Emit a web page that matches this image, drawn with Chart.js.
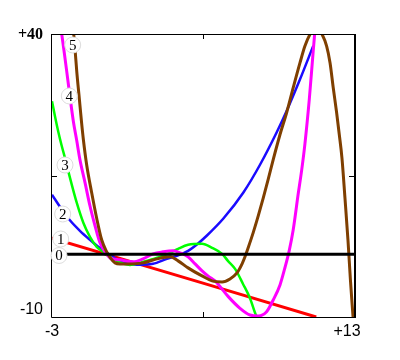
<!DOCTYPE html>
<html lang="en">
<head>
    <meta charset="UTF-8">
    <title>Polynomial curves</title>
    <style>
        body {
            margin: 0;
            background: #fff;
        }
    </style>
</head>
<body>
    <canvas id="curves" width="400" height="360"></canvas>

    <script src="https://cdn.jsdelivr.net/npm/chart.js"></script>

    <script>
        // Axis range and the labels written at its ends
        const xRange = [-3, 13];
        const yRange = [-10, 40];
        const xTickLabels = ['-3', '+13'];
        const yTickLabels = ['-10', '+40'];
        const curveNames = ['0', '1', '2', '3', '4', '5'];

        // Curve 0: flat line
        const zeroX = [-3, 13];
        const zeroY = [1.1, 1.1];

        // Curve 1: straight line
        const redX = [-3, 11.0];
        const redY = [3.94, -10];

        // Curve 2
        const blueX = [-3, -2.58, -2.05, -1.52, -0.99, -0.46, 0.07, 0.6, 1.5, 2.35, 3.09, 3.62, 4.21, 4.74, 5.21, 6.08, 7.14, 8.02, 8.9, 9.43, 10.14, 10.84];
        const blueY = [11.6, 9.48, 7.09, 5.23, 3.64, 2.17, 0.98, -0.08, -0.79, -0.61, 0.27, 0.8, 1.69, 3.0, 4.4, 7.4, 12.0, 16.9, 22.6, 26.4, 32.0, 37.9];

        // Curve 3
        const greenX = [-3, -2.84, -2.67, -2.49, -2.26, -2.05, -1.69, -1.34, -0.99, -0.63, -0.28, -0.02, 0.43, 0.81, 1.13, 1.66, 2.19, 2.72, 3.25, 3.68, 4.21, 4.95, 5.48, 6.01, 6.32, 6.7, 7.12, 7.49, 7.76, 7.85];
        const greenY = [28.13, 25.42, 22.77, 20.29, 17.45, 14.62, 10.19, 6.65, 4.17, 2.4, 1.51, 0.8, -0.09, -0.62, -0.8, -0.44, 0.09, 0.6, 1.33, 2.04, 2.75, 2.93, 2.22, 1.16, -0.08, -1.5, -4.16, -6.69, -9.29, -10];

        // Curve 4
        const magentaX = [-2.55, -2.49, -2.36, -2.22, -2.05, -1.87, -1.69, -1.52, -1.25, -0.99, -0.72, -0.46, -0.19, 0.07, 0.6, 1.29, 1.82, 2.35, 2.88, 3.41, 3.78, 4.21, 4.58, 4.95, 5.26, 5.64, 5.79, 6.34, 6.96, 7.49, 7.93, 8.37, 8.72, 9.08, 9.34, 9.56, 9.78, 10.05, 10.23, 10.4, 10.63, 10.84, 10.99];
        const magentaY = [41.5, 40.12, 36.94, 33.4, 28.97, 24.6, 21.17, 17.81, 13.73, 9.66, 6.12, 3.11, 1.51, 0.45, 0.1, -0.26, 0.27, 1.16, 1.51, 1.69, 1.33, 0.62, -0.61, -1.85, -2.74, -3.62, -4.16, -6.4, -8.46, -9.65, -9.82, -9.06, -6.99, -4.33, -1.3, 1.6, 5.41, 11.9, 16.0, 20.6, 28.4, 37.0, 43];

        // Curve 5
        const brownX = [-1.9, -1.85, -1.78, -1.69, -1.55, -1.43, -1.34, -1.16, -0.9, -0.63, -0.37, -0.1, 0.13, 0.34, 0.6, 0.97, 1.82, 2.56, 3.25, 3.68, 4.21, 4.95, 5.48, 6.01, 6.43, 6.8, 7.07, 7.22, 7.38, 7.66, 7.93, 8.19, 8.46, 8.72, 9.08, 9.43, 9.78, 10.14, 10.4, 10.67, 10.99, 11.3, 11.55, 11.73, 11.9, 12.08, 12.22, 12.36, 12.52, 12.68, 12.81, 12.95];
        const brownY = [42.5, 40, 37.34, 33.44, 28.49, 24.24, 21.4, 16.8, 12.0, 7.4, 3.64, 1.51, 0.27, -0.44, -0.62, -0.62, -0.44, 0.27, 0.63, -0.08, -1.32, -2.74, -3.62, -3.8, -3.27, -2.2, -0.6, 0.6, 2.1, 4.9, 7.9, 11.0, 14.4, 17.8, 22.24, 26.08, 30.51, 34.93, 37.87, 39.95, 41.3, 40, 37.87, 34.93, 30.5, 26.08, 22.24, 18.16, 11.08, 3.64, -3.45, -10];

        function points(xs, ys) {
            return xs.map((x, i) => ({ x: x, y: ys[i] }));
        }

        function curve(xs, ys, color, width) {
            return {
                data: points(xs, ys),
                borderColor: color,
                borderWidth: width,
                pointRadius: 0,
                fill: false,
                cubicInterpolationMode: 'monotone'
            };
        }

        // Frame, mid ticks, end labels and the numbered circles
        const framePlugin = {
            id: 'framePlugin',
            afterDatasetsDraw(chart) {
                const ctx = chart.ctx;
                const a = chart.chartArea;
                const xs = chart.scales.x;
                const ys = chart.scales.y;
                ctx.save();

                ctx.strokeStyle = '#000';
                ctx.lineWidth = 1;
                ctx.beginPath();
                ctx.moveTo(a.left - 0.5, a.top + 0.5);
                ctx.lineTo(a.right, a.top + 0.5);
                ctx.moveTo(a.left - 0.5, a.top);
                ctx.lineTo(a.left - 0.5, a.bottom + 0.5);
                ctx.lineTo(a.right, a.bottom + 0.5);
                ctx.stroke();

                ctx.lineWidth = 2;
                ctx.beginPath();
                ctx.moveTo(a.right + 1, a.top);
                ctx.lineTo(a.right + 1, a.bottom + 1);
                ctx.stroke();

                // ticks at the middle of each side
                const mx = Math.round(xs.getPixelForValue((xRange[0] + xRange[1]) / 2)) + 0.5;
                const my = Math.round(ys.getPixelForValue((yRange[0] + yRange[1]) / 2)) + 0.5;
                ctx.lineWidth = 1;
                ctx.beginPath();
                ctx.moveTo(mx, a.top);
                ctx.lineTo(mx, a.top + 5);
                ctx.moveTo(mx, a.bottom);
                ctx.lineTo(mx, a.bottom - 5);
                ctx.moveTo(a.left, my);
                ctx.lineTo(a.left + 5, my);
                ctx.moveTo(a.right, my);
                ctx.lineTo(a.right - 5, my);
                ctx.stroke();

                ctx.fillStyle = '#000';
                ctx.textBaseline = 'middle';
                ctx.textAlign = 'right';
                ctx.font = 'bold 16px "Liberation Serif", serif';
                ctx.fillText(yTickLabels[1], a.left - 9, a.top + 1);
                ctx.font = '16px "Liberation Sans", Arial, sans-serif';
                ctx.fillText(yTickLabels[0], a.left - 9, a.bottom - 7);
                ctx.textAlign = 'center';
                ctx.fillText(xTickLabels[0], a.left, a.bottom + 15);
                ctx.fillText(xTickLabels[1], a.right - 7, a.bottom + 15);

                // numbered circles on the left ends of the curves
                const spots = [[59, 255.5], [60.7, 239], [62.7, 214], [65, 165], [69.3, 96], [72.7, 45]];
                ctx.font = '15px "Liberation Serif", serif';
                spots.forEach((p, i) => {
                    ctx.beginPath();
                    ctx.arc(p[0], p[1], 8, 0, Math.PI * 2);
                    ctx.fillStyle = '#fff';
                    ctx.fill();
                    ctx.strokeStyle = '#dcdcdc';
                    ctx.lineWidth = 1;
                    ctx.stroke();
                    ctx.fillStyle = '#000';
                    ctx.fillText(curveNames[i], p[0], p[1] + 1);
                });

                ctx.restore();
            }
        };

        const ctx = document.getElementById('curves').getContext('2d');
        new Chart(ctx, {
            type: 'line',
            data: {
                datasets: [
                    curve(zeroX, zeroY, '#000000', 3),
                    curve(brownX, brownY, '#7f3f00', 3),
                    curve(magentaX, magentaY, '#ff00ff', 3),
                    curve(greenX, greenY, '#00ff00', 2.5),
                    curve(blueX, blueY, '#1a0aff', 2.5),
                    curve(redX, redY, '#ff0000', 3)
                ]
            },
            options: {
                responsive: false,
                animation: false,
                layout: {
                    padding: { left: 52, right: 46, top: 34, bottom: 43 }
                },
                plugins: {
                    legend: { display: false },
                    tooltip: { enabled: false }
                },
                scales: {
                    x: { type: 'linear', min: xRange[0], max: xRange[1], display: false },
                    y: { type: 'linear', min: yRange[0], max: yRange[1], display: false }
                }
            },
            plugins: [framePlugin]
        });
    </script>
</body>
</html>
